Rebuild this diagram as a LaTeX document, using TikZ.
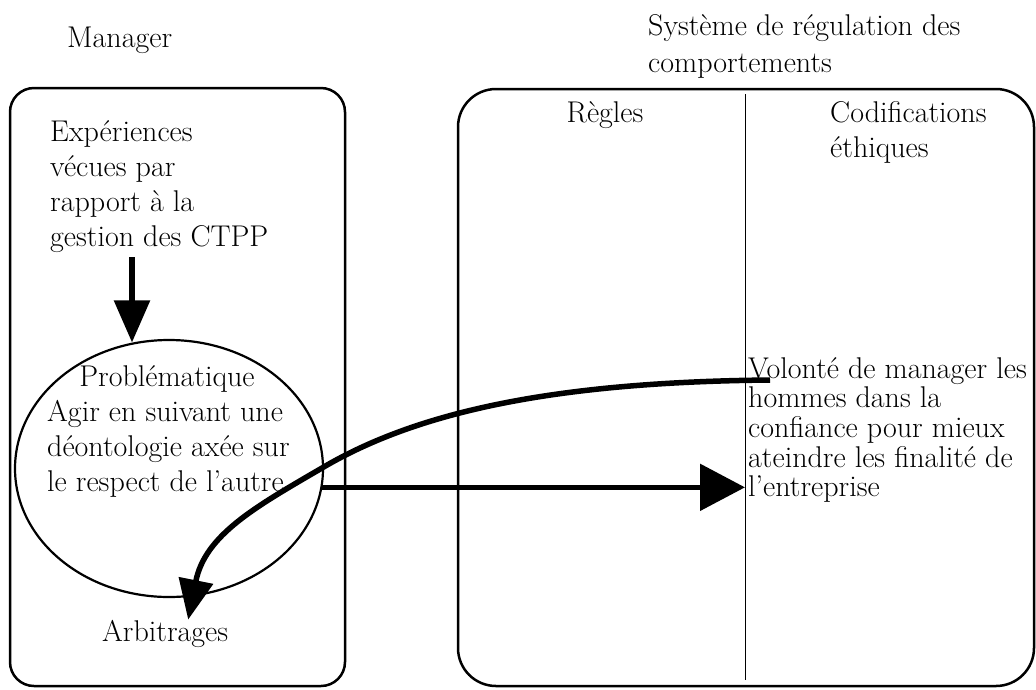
\documentclass[tikz,border=0pt]{standalone}
\usetikzlibrary{arrows.meta,shapes.geometric}
% a left-aligned block of lines whose baseline is that of its first line
\newcommand\stacklines[1]{\begin{tabular}[t]{@{}l@{}}#1\end{tabular}}
\begin{document}
\begin{tikzpicture}[x=1pt,y=-1pt,
  label text/.style={font=\fontsize{30}{35}\selectfont, inner sep=0pt, anchor=base west},
  tight text/.style={font=\fontsize{30}{29}\selectfont, inner sep=0pt, anchor=base west},
  panel/.style={line width=2.5pt, rounded corners=#1},
  divider/.style={line width=1pt},
  flow/.style={line width=5.5pt, -{Triangle[length=42pt,width=35pt]}},
]
\fill[white] (0,0) rectangle (1036,689);
\useasboundingbox (0,0) rectangle (1036,689);

% headings
\node[label text] (mgr) at (67,47) {Manager};
\node[label text, font=\fontsize{30}{37}\selectfont] (sys) at (648,35)
  {\stacklines{Système de régulation des\\comportements}};

% the two panels and the column divider
\draw[panel=24pt] (10,88) rectangle (345,686);
\draw[panel=38pt] (458,89) rectangle (1034,686);
\draw[divider] (745,94) coordinate (divtop) -- (745,680) coordinate (divbot);

% column heads
\node[label text, anchor=base] (regles) at (605,122) {Règles};
\node[label text, font=\fontsize{30}{35}\selectfont] (codif) at (830,122)
  {\stacklines{Codifications\\éthiques}};

% manager side
\node[label text] (exp) at (50,141)
  {\stacklines{Expériences\\vécues par\\rapport à la\\gestion des CTPP}};
\node[draw, ellipse, line width=2.2pt, minimum width=308pt, minimum height=257pt,
      inner sep=0pt] (prob) at (169,468.5) {};
\node[label text, anchor=base] (probt) at (167,386) {Problématique};
\node[label text] (agir) at (47,421)
  {\stacklines{Agir en suivant une\\déontologie axée sur\\le respect de l'autre}};
\node[label text] (arb) at (102,641) {Arbitrages};

% ethics side
\node[tight text] (vol) at (748,378)
  {\stacklines{Volonté de manager les\\hommes dans la\\confiance pour mieux\\ateindre les finalité de\\l'entreprise}};

% connectors
\coordinate (expfoot) at (132,257);
\draw[flow] (expfoot) -- (expfoot |- prob.106);
\draw[flow, -{Triangle[length=45pt,width=46pt]}] (prob.-7) -- (prob.-7 -| divtop);
\draw[flow, -{Triangle[length=40pt,width=34pt]}]
  ([xshift=22pt,yshift=-2pt]vol.base west)
  .. controls (560,382) and (420,410) .. (322,468)
  .. controls (255,507) and (205,535) .. ([xshift=23pt]arb.north);
\end{tikzpicture}
\end{document}
